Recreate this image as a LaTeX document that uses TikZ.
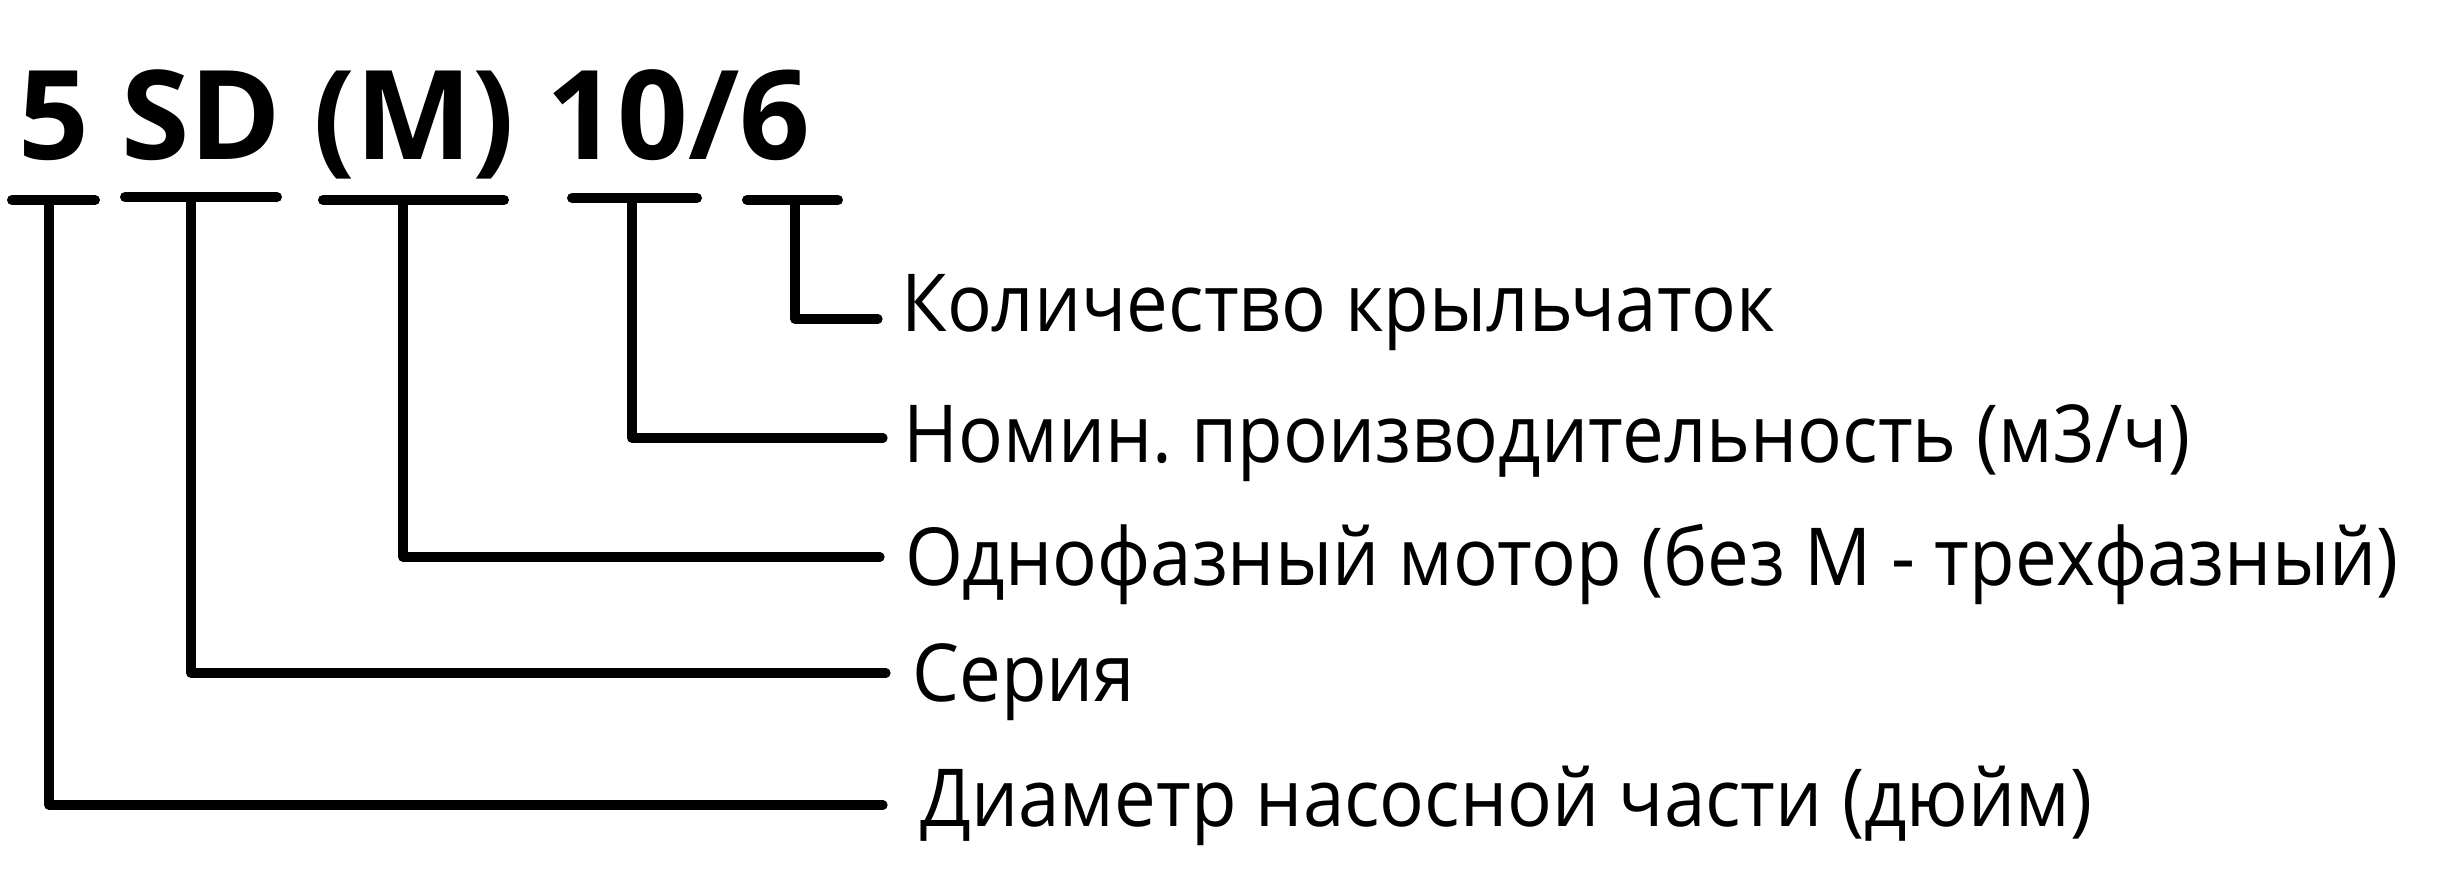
\documentclass[tikz,border=0pt]{standalone}
\usepackage{fontspec}
\setmainfont{Open Sans}
\newfontfamily\lblface[FakeStretch=0.93]{Open Sans}
\frenchspacing

\tikzset{every picture/.style={line width=0.75pt}}
\tikzset{
  code/.style={font=\fontsize{93}{105}\selectfont\bfseries, inner sep=0pt, anchor=base west},
  lbl/.style={font=\lblface\fontsize{60}{72}\selectfont, inner sep=0pt, anchor=base west},
  bar/.style={line width=7.5pt, line cap=round},
  lead/.style={line width=7pt, line cap=round, line join=round},
}

\begin{document}
\begin{tikzpicture}[x=0.75pt,y=0.75pt,yscale=-1,xscale=1]
\path [use as bounding box, fill=white] (0,0) rectangle (2444,895);

% Text Node
\node [code] (code) at (18,160) {5 SD (M) 10/6};

%Straight Lines [id:bar1] 
\draw [bar] (12,200) -- (95,200) ;
%Straight Lines [id:bar2] 
\draw [bar] (125,197) -- (277,197) ;
%Straight Lines [id:bar3] 
\draw [bar] (323,200) -- (504,200) ;
%Straight Lines [id:bar4] 
\draw [bar] (572,198) -- (697,198) ;
%Straight Lines [id:bar5] 
\draw [bar] (747,200) -- (838,200) ;

\coordinate (b1) at (49,200);
\coordinate (b2) at (191,197);
\coordinate (b3) at (403,200);
\coordinate (b4) at (632,198);
\coordinate (b5) at (795,200);

\coordinate (e1) at (883,805);
\coordinate (e2) at (886,673);
\coordinate (e3) at (880,557);
\coordinate (e4) at (883,438);
\coordinate (e5) at (878,319);

% Text Node
\node [lbl] (qty) at (901,331) {Количество крыльчаток};
% Text Node
\node [lbl] (flow) at (903,462) {Номин. производительность (м3/ч)};
% Text Node
\node [lbl] (motor) at (905,585) {Однофазный мотор (без М - трехфазный)};
% Text Node
\node [lbl] (series) at (912,701) {Серия};
% Text Node
\node [lbl] (diam) at (920,826) {Диаметр насосной части (дюйм)};

%Straight Lines [id:lead1] 
\draw [lead] (b1) |- (e1) ;
%Straight Lines [id:lead2] 
\draw [lead] (b2) |- (e2) ;
%Straight Lines [id:lead3] 
\draw [lead] (b3) |- (e3) ;
%Straight Lines [id:lead4] 
\draw [lead] (b4) |- (e4) ;
%Straight Lines [id:lead5] 
\draw [lead] (b5) |- (e5) ;

\end{tikzpicture}
\end{document}
